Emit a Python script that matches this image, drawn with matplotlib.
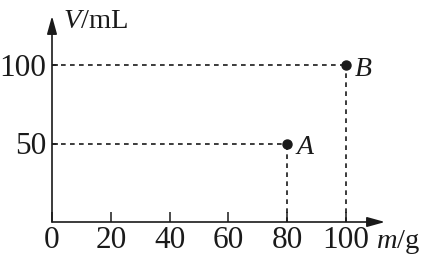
import matplotlib
matplotlib.use("Agg")
import matplotlib.pyplot as plt

# data
point_names = ["A", "B"]
mass_g = [80, 100]
volume_ml = [50, 100]
x_ticks = [0, 20, 40, 60, 80, 100]
y_ticks = [50, 100]

plt.rcParams['font.family'] = ['Liberation Serif', 'DejaVu Serif']
plt.rcParams['mathtext.fontset'] = 'custom'
plt.rcParams['mathtext.rm'] = 'Liberation Serif'
plt.rcParams['mathtext.it'] = 'Liberation Serif:italic'

ink = '#1a1a1a'

fig = plt.figure(figsize=(4.21, 2.54), dpi=100)
ax = fig.add_axes([52/421, 32/254, 333/421, 206/254])
ax.set_xlim(0, 333/2.94)
ax.set_ylim(0, 206/1.57)

for s in ax.spines.values():
    s.set_visible(False)

# axes with arrow heads
arrow = dict(arrowstyle='-|>,head_length=0.9,head_width=0.25', color=ink,
             lw=1.2, shrinkA=0, shrinkB=0, mutation_scale=12)
ax.annotate('', xy=(1, 0), xytext=(0, 0), xycoords='axes fraction', arrowprops=arrow)
ax.annotate('', xy=(0, 1), xytext=(0, 0), xycoords='axes fraction', arrowprops=arrow)

ax.set_xticks(x_ticks)
ax.set_yticks(y_ticks)
ax.tick_params(axis='x', direction='in', length=7, width=1.1, color=ink,
               labelsize=22.5, pad=3, labelcolor=ink)
ax.tick_params(axis='y', direction='in', length=4, width=1.1, color=ink,
               labelsize=22.5, pad=4, labelcolor=ink)

# dashed guides and points
for name, m, v in zip(point_names, mass_g, volume_ml):
    ax.plot([0, m], [v, v], color=ink, lw=1.2, ls=(0, (2.8, 2.6)), clip_on=False)
    ax.plot([m, m], [0, v], color=ink, lw=1.2, ls=(0, (2.8, 2.6)), clip_on=False)
    ax.plot(m, v, 'o', color=ink, ms=6.5, clip_on=False)
    ax.annotate('$' + name + '$', xy=(m, v), xytext=(8, -11), textcoords='offset pixels',
                ha='left', va='baseline', fontsize=20, color=ink)

fig.text(63/421, 1 - 28/254, '$V$/mL', ha='left', va='baseline', fontsize=20.5, color=ink)
fig.text(376/421, 6.5/254, '$m$/g', ha='left', va='baseline', fontsize=20.5, color=ink)

fig.savefig('out.png', dpi=100)
